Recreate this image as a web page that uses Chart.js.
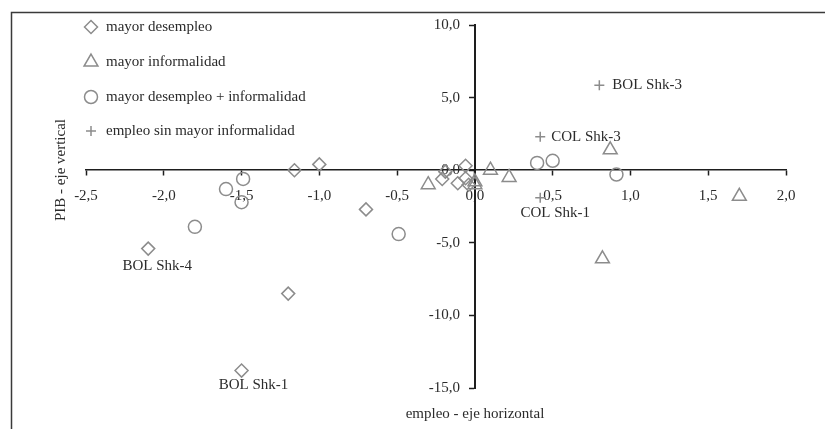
<!DOCTYPE html>
<html>
<head>
<meta charset="utf-8">
<script src="https://cdn.jsdelivr.net/npm/chart.js@4/dist/chart.umd.min.js"></script>
<style>
  html, body { margin: 0; padding: 0; background: #fff; overflow: hidden; }
  #wrap { width: 825px; height: 429px; position: relative; }
</style>
</head>
<body>
<div id="wrap"><canvas id="chart" width="825" height="429"></canvas></div>
<script>
'use strict';

/* ── Data ── */
const desempleoX  = [-1.16, -1.0, -0.70, -2.10, -1.20, -1.50, -0.19, -0.06, -0.21, -0.11, -0.06, -0.04];
const desempleoY  = [ 0.0,   0.4, -2.7,  -5.4,  -8.5, -13.8,  -0.1,   0.3,  -0.6,  -0.9,  -0.55, -1.0];
const desempleoLb = ['', '', '', 'BOL Shk-4', '', 'BOL Shk-1', '', '', '', '', '', ''];

const informX = [-0.30, 0.0, 0.0, 0.10, 0.22, 0.87, 1.70, 0.82];
const informY = [-1.0, -1.0, -0.8, 0.0, -0.5, 1.4, -1.8, -6.1];

const mixtoX = [-1.49, -1.60, -1.50, -1.80, -0.49, 0.40, 0.50, 0.91];
const mixtoY = [-0.6, -1.3, -2.2, -3.9, -4.4, 0.5, 0.65, -0.3];

const empleoX  = [0.80, 0.42, 0.42];
const empleoY  = [5.85, 2.3, -1.9];
const empleoLb = ['BOL Shk-3', 'COL Shk-3', 'COL Shk-1'];

const seriesNames = ['mayor desempleo', 'mayor informalidad', 'mayor desempleo + informalidad', 'empleo sin mayor informalidad'];

const xMin = -2.5, xMax = 2.0, xStep = 0.5;
const yMin = -15, yMax = 10, yStep = 5;

const xTitle = 'empleo - eje horizontal';
const yTitle = 'PIB - eje vertical';

/* ── Style ── */
const FONT   = '"Liberation Serif", "DejaVu Serif", serif';
const GREY   = '#8c8c8c';
const TEXT   = '#2b2b2b';
const AXIS   = '#1e1e1e';

const styles = [
  { pointStyle: 'rectRot',  radius: 6.5 },
  { pointStyle: 'triangle', radius: 8 },
  { pointStyle: 'circle',   radius: 6.5 },
  { pointStyle: 'cross',    radius: 5 },
];

// where each point label sits relative to its marker
const labelPlace = {
  'BOL Shk-3': { dx: 13, dy: 0,  align: 'left' },
  'COL Shk-3': { dx: 11, dy: 0,  align: 'left' },
  'COL Shk-1': { dx: 15, dy: 15, align: 'center' },
  'BOL Shk-4': { dx: 9,  dy: 17, align: 'center' },
  'BOL Shk-1': { dx: 12, dy: 14, align: 'center' },
};

const zip = (xs, ys) => xs.map((x, i) => ({ x, y: ys[i] }));
const fmt = v => (Math.round(v * 10) / 10).toFixed(1).replace('.', ',');

function dataset(i, xs, ys, labels) {
  return {
    label: seriesNames[i],
    data: zip(xs, ys),
    pointLabels: labels || [],
    pointStyle: styles[i].pointStyle,
    pointRadius: styles[i].radius,
    pointHoverRadius: styles[i].radius,
    pointBorderWidth: 1.5,
    borderColor: GREY,
    backgroundColor: 'rgba(0,0,0,0)',
  };
}

/* ── Decorations: frame, legend, point labels, axis titles ── */
const decor = {
  id: 'decor',
  beforeDraw(chart) {
    const ctx = chart.ctx;
    ctx.save();
    ctx.strokeStyle = '#3a3a3a';
    ctx.lineWidth = 1.5;
    ctx.strokeRect(11.5, 12.5, 1000, 1000);
    ctx.restore();
  },
  afterDatasetsDraw(chart) {
    const ctx = chart.ctx;
    ctx.save();
    ctx.font = '15px ' + FONT;
    ctx.fillStyle = TEXT;

    // point labels
    chart.data.datasets.forEach((ds, di) => {
      const meta = chart.getDatasetMeta(di);
      ds.pointLabels.forEach((txt, i) => {
        if (!txt) return;
        const p = meta.data[i];
        const pl = labelPlace[txt];
        ctx.textAlign = pl.align;
        ctx.textBaseline = 'middle';
        ctx.fillText(txt, p.x + pl.dx, p.y + pl.dy);
      });
    });

    // legend (hollow markers like the plotted ones)
    const rowY = [27, 62, 97, 131];
    seriesNames.forEach((name, i) => {
      ctx.strokeStyle = GREY;
      ctx.fillStyle = 'rgba(0,0,0,0)';
      ctx.lineWidth = 1.5;
      Chart.helpers.drawPoint(ctx, {
        pointStyle: styles[i].pointStyle,
        radius: styles[i].radius,
        rotation: 0,
        borderWidth: 1.5,
      }, 91, rowY[i]);
      ctx.fillStyle = TEXT;
      ctx.textAlign = 'left';
      ctx.textBaseline = 'middle';
      ctx.fillText(name, 106, rowY[i]);
    });

    // axis titles
    ctx.fillStyle = TEXT;
    ctx.textAlign = 'center';
    ctx.textBaseline = 'middle';
    ctx.fillText(xTitle, 475, 414);
    ctx.translate(61, 170);
    ctx.rotate(-Math.PI / 2);
    ctx.fillText(yTitle, 0, 0);
    ctx.restore();
  },
};

new Chart(document.getElementById('chart'), {
  type: 'scatter',
  data: {
    datasets: [
      dataset(0, desempleoX, desempleoY, desempleoLb),
      dataset(1, informX, informY),
      dataset(2, mixtoX, mixtoY),
      dataset(3, empleoX, empleoY, empleoLb),
    ],
  },
  options: {
    responsive: false,
    animation: false,
    devicePixelRatio: 1,
    layout: { padding: { left: 86, right: 39, top: 25, bottom: 41 } },
    plugins: { legend: { display: false }, tooltip: { enabled: false } },
    scales: {
      x: {
        type: 'linear',
        position: { y: 0 },
        min: xMin, max: xMax,
        ticks: { stepSize: xStep, autoSkip: false, maxRotation: 0, padding: 12, color: TEXT, font: { family: FONT, size: 15 }, callback: fmt },
        grid: { drawOnChartArea: false, drawTicks: true, tickLength: 5, tickColor: AXIS, tickWidth: 1.5 },
        border: { color: AXIS, width: 1.5 },
      },
      y: {
        type: 'linear',
        position: { x: 0 },
        min: yMin, max: yMax,
        // a centred y axis gets no label padding, so trailing spaces push the labels off the axis
        ticks: { stepSize: yStep, autoSkip: false, color: TEXT, font: { family: FONT, size: 15 }, callback: v => fmt(v) + '    ' },
        grid: { drawOnChartArea: false, drawTicks: true, tickLength: 5, tickColor: AXIS, tickWidth: 1.5 },
        border: { color: AXIS, width: 2 },
      },
    },
  },
  plugins: [decor],
});
</script>
</body>
</html>
